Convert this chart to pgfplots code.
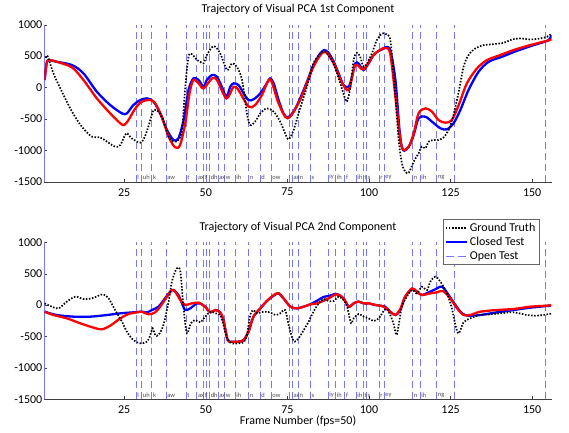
\documentclass[border=0pt]{standalone}
\usepackage{fontspec}
\setmainfont{Carlito}
\usepackage{pgfplots}
\pgfplotsset{compat=1.18}
\usepackage{pgfplotstable}

\definecolor{openblue}{RGB}{120,120,255}

% ---------------- Top plot (1st component) ----------------
\pgfplotstableread{
f v
1.0 470
1.5 500
3.3 225
5.9 -67
9.0 -385
12.0 -624
15.1 -783
17.6 -793
19.7 -862
22.2 -942
23.8 -916
25.6 -730
27.3 -810
29.9 -878
31.4 -772
33.0 -518
34.0 -359
35.5 -385
37.0 -518
38.6 -783
40.1 -862
41.6 -836
42.7 -677
43.7 12
44.7 490
45.7 532
47.3 437
48.3 410
49.3 384
50.3 516
52.4 659
54.4 543
56.5 278
58.0 384
59.5 331
61.1 119
62.6 -412
63.6 -597
65.1 -544
66.7 -412
68.7 -332
70.8 -385
72.8 -544
74.3 -730
75.4 -825
76.9 -677
78.9 -332
81.0 12
83.0 384
85.1 543
86.6 569
88.6 437
90.2 225
91.7 -14
93.2 -226
94.3 12
95.3 437
96.3 553
97.3 490
98.3 331
99.4 384
100.9 543
102.4 755
104.0 861
105.2 850
106.3 808
107.0 550
108.1 -147
109.1 -836
110.1 -1207
111.1 -1340
112.2 -1356
113.7 -1181
115.2 -1048
116.2 -942
117.3 -968
118.3 -862
119.8 -836
121.3 -836
122.9 -793
124.4 -677
125.9 -438
127.5 -67
129.0 331
130.5 516
132.6 622
135.1 675
138.2 691
141.3 712
143.8 765
146.4 781
149.4 765
152.5 781
154.6 808
155.8 850
}\topgt

\pgfplotstableread{
f v
0.6 120
1.2 380
1.8 437
4.3 410
9.0 357
12.5 225
16.6 -67
20.7 -279
24.3 -412
25.8 -412
27.8 -279
29.9 -200
32.0 -173
34.0 -226
36.0 -412
38.1 -677
40.1 -836
41.6 -810
43.2 -518
44.7 -41
46.2 145
47.8 119
49.3 12
50.3 119
51.9 198
53.4 172
54.9 12
56.3 -147
57.5 12
58.5 66
60.0 39
61.6 -94
63.1 -200
64.6 -189
66.7 -94
68.7 66
69.7 145
70.8 66
72.3 -200
73.8 -412
75.1 -475
76.9 -385
78.9 -173
81.0 92
83.0 357
85.1 543
86.3 596
87.6 553
89.2 410
90.7 225
92.2 39
93.8 12
94.8 172
95.8 384
96.8 384
98.3 278
99.9 384
101.4 516
103.0 585
104.0 606
105.0 640
106.5 596
108.1 119
109.4 -700
110.4 -995
112.2 -942
113.7 -757
115.2 -491
117.3 -465
119.3 -544
121.9 -650
123.9 -666
125.9 -571
128.0 -359
130.5 -41
133.6 251
136.7 410
140.8 490
145.4 585
150.5 675
155.1 755
155.8 834
}\topcl

\pgfplotstableread{
f v
0.6 120
1.2 380
1.8 437
4.3 410
9.0 320
12.5 119
16.6 -173
20.7 -412
23.8 -571
25.0 -597
26.3 -518
28.4 -332
30.4 -226
33.0 -200
34.5 -253
36.5 -465
38.6 -783
40.6 -953
42.1 -916
43.7 -571
45.0 -94
46.2 119
47.8 66
49.3 -14
51.9 145
53.4 119
56.3 -173
58.5 12
60.0 -41
63.1 -306
65.1 -279
67.2 -120
69.7 129
72.3 -253
75.1 -491
78.9 -200
83.0 331
86.3 569
89.2 384
91.5 100
93.8 -41
95.8 357
98.3 288
101.4 516
103.5 600
105.0 630
106.5 540
108.1 -147
109.6 -836
110.6 -995
112.2 -942
113.7 -730
115.2 -412
117.3 -332
119.3 -385
121.3 -518
123.4 -560
125.4 -518
127.5 -279
130.0 66
133.1 304
136.2 437
140.2 516
144.3 596
149.4 675
154.6 744
156.0 765
}\topop

% ---------------- Bottom plot (2nd component) ----------------
\pgfplotstableread{
f v
0.6 28
2.8 -25
4.9 -52
7.4 55
10.0 134
12.5 97
15.1 108
17.1 150
18.6 171
20.2 108
22.2 -78
24.3 -264
25.8 -423
27.8 -556
29.9 -609
32.0 -582
33.0 -476
33.7 -370
34.5 -476
35.5 -476
37.0 -317
38.6 55
39.6 373
41.1 585
42.2 532
43.2 -52
44.2 -450
45.4 -290
46.8 -237
48.3 -274
49.8 -184
51.4 -105
52.9 -131
54.4 -158
55.4 -317
56.5 -529
58.0 -609
60.0 -609
61.6 -593
62.6 -476
63.6 -158
64.6 -78
65.7 -131
67.7 -105
69.7 -115
71.3 -158
72.8 -131
74.3 -78
75.4 -317
76.9 -572
78.4 -529
80.0 -397
81.5 -264
83.0 -105
84.6 28
86.1 97
87.6 65
89.2 65
90.7 134
92.2 81
93.3 -25
94.5 -290
95.3 -211
96.8 -142
98.4 -184
99.9 -211
101.4 -253
103.0 -211
104.5 -94
105.5 -62
106.5 -158
107.5 -290
108.4 -476
109.1 -317
110.1 -25
111.6 134
113.2 240
114.7 187
116.2 293
117.8 240
118.8 373
120.3 453
121.9 373
123.9 187
125.4 -52
126.5 -317
127.5 -450
129.0 -274
131.0 -211
134.1 -158
137.2 -147
140.2 -131
144.3 -115
148.4 -158
151.5 -168
154.6 -147
155.8 -136
}\botgt

\pgfplotstableread{
f v
0.6 -105
4.3 -158
9.5 -184
14.6 -184
19.7 -158
23.8 -131
27.8 -115
30.4 -105
32.0 -115
33.5 -78
35.5 -25
37.5 108
39.1 214
40.1 240
41.6 161
42.7 28
43.7 -78
45.2 -52
47.3 28
48.8 12
49.8 -25
51.4 -115
52.9 -78
54.4 -115
55.4 -237
56.7 -556
58.0 -582
60.0 -582
61.6 -556
63.1 -423
64.6 -184
66.7 -52
68.7 65
70.8 150
72.3 187
73.8 108
75.9 -25
77.9 -52
80.0 -25
82.0 12
84.1 70
86.1 130
88.1 150
89.7 180
90.7 165
92.2 108
93.8 -25
95.3 28
96.8 55
98.4 28
99.9 28
101.9 2
104.0 -14
105.0 -25
106.5 -105
108.1 -158
109.6 -78
111.1 134
113.2 256
114.7 214
116.2 161
118.3 203
120.3 251
122.4 293
124.4 161
126.5 2
128.5 -131
130.5 -168
134.1 -158
139.2 -115
144.3 -78
149.4 -41
154.6 -14
155.8 -9
}\botcl

\pgfplotstableread{
f v
0.6 -105
3.3 -158
7.4 -211
11.5 -290
15.6 -359
18.1 -386
20.7 -328
23.8 -211
26.3 -142
28.9 -115
30.4 -105
32.4 -147
34.5 -115
36.0 -25
38.1 134
39.6 240
40.6 214
42.2 81
43.7 2
45.7 28
47.8 40
48.8 12
49.8 -25
51.4 -115
52.9 -78
54.4 -115
55.4 -237
56.7 -556
58.0 -582
60.0 -582
61.6 -556
63.1 -423
64.6 -184
66.7 -52
68.7 65
70.8 160
72.3 190
73.8 108
75.9 -25
77.9 -52
80.0 -25
82.0 12
84.1 28
86.1 70
88.1 120
89.7 171
90.7 165
92.2 108
93.8 -25
95.3 28
96.8 55
98.4 28
99.9 28
101.9 2
104.0 -14
105.0 -41
106.5 -105
108.1 -158
109.6 -62
111.1 134
113.2 267
114.7 214
116.2 161
118.8 187
120.8 203
122.7 224
124.9 108
127.0 -52
129.0 -158
131.0 -158
134.1 -105
139.2 -78
144.3 -62
149.4 -25
154.6 -9
155.8 2
}\botop

\newcommand{\fs}{\fontsize{12}{14}\selectfont}

\tikzset{
  phon/.style={font=\fontsize{6.5}{6.5}\selectfont, text=black!70, anchor=south west, inner sep=0.4pt, xshift=0.8pt, yshift=1.5pt},
}

\pgfplotsset{
  myaxis/.style={
    scale only axis, width=507.4pt, height=157pt,
    xmin=0.5, xmax=156, ymin=-1500, ymax=1000,
    xtick={25,50,75,100,125,150}, xticklabels={25,50,75,100,125,150},
    ytick={-1500,-1000,-500,0,500,1000},
    yticklabels={-1500,-1000,-500,0,500,1000},
    tick align=inside, major tick length=3pt,
    axis x line*=bottom, axis y line*=left, axis line style={-},
    x axis line style={black!75}, y axis line style={openblue},
    tick style={black!75},
    ticklabel style={font=\fs},
    xticklabel style={yshift=-3pt}, yticklabel style={xshift=1.5pt},
    extra x ticks={28.6,30.3,33.4,37.8,43.9,47.2,49.2,50.3,51.1,53.7,55.7,58.9,63.1,66.6,70.0,75.6,76.5,78.3,82.0,87.4,89.7,92.6,96.0,98.2,99.2,103.1,104.6,113.3,115.6,120.7,126.1,154.2},
    extra x tick labels={},
    extra x tick style={grid=major, major tick length=0pt,
      major grid style={openblue, line width=0.7pt, dash pattern=on 7pt off 4pt}},
    title style={font=\fs, at={(0.5,1)}, anchor=base, yshift=6pt},
  },
  gt/.style={black, line width=1.7pt, dash pattern=on 1.5pt off 1.6pt},
  cl/.style={blue, line width=2.3pt},
  op/.style={red, line width=2.3pt},
  legend image code/.code={\draw[#1] (0pt,0pt) -- (21pt,0pt);},
}

\newcommand{\phonemes}{%
  \node[phon] at (axis cs:28.6,-1500) {l};
  \node[phon] at (axis cs:30.3,-1500) {uh};
  \node[phon] at (axis cs:33.4,-1500) {k};
  \node[phon] at (axis cs:37.8,-1500) {aw};
  \node[phon] at (axis cs:43.9,-1500) {t};
  \node[phon] at (axis cs:47.2,-1500) {ax};
  \node[phon] at (axis cs:49.2,-1500) {y};
  \node[phon] at (axis cs:51.1,-1500) {dh};
  \node[phon] at (axis cs:53.7,-1500) {ax};
  \node[phon] at (axis cs:55.7,-1500) {w};
  \node[phon] at (axis cs:58.9,-1500) {ih};
  \node[phon] at (axis cs:63.1,-1500) {n};
  \node[phon] at (axis cs:66.6,-1500) {d};
  \node[phon] at (axis cs:70.0,-1500) {ow};
  \node[phon] at (axis cs:76.5,-1500) {ax};
  \node[phon] at (axis cs:78.3,-1500) {n};
  \node[phon] at (axis cs:82.0,-1500) {s};
  \node[phon] at (axis cs:87.4,-1500) {iy};
  \node[phon] at (axis cs:89.7,-1500) {ih};
  \node[phon] at (axis cs:92.6,-1500) {f};
  \node[phon] at (axis cs:96.0,-1500) {ih};
  \node[phon] at (axis cs:98.2,-1500) {t};
  \node[phon] at (axis cs:99.2,-1500) {s};
  \node[phon] at (axis cs:103.1,-1500) {r};
  \node[phon] at (axis cs:104.6,-1500) {ey};
  \node[phon] at (axis cs:113.3,-1500) {n};
  \node[phon] at (axis cs:115.6,-1500) {ih};
  \node[phon] at (axis cs:120.7,-1500) {ng};
}

\begin{document}
\begin{tikzpicture}[x=1pt,y=1pt]
\path[use as bounding box] (0,0) rectangle (569,432);

\begin{axis}[myaxis, at={(44.3pt,250.3pt)}, anchor=south west,
  title={Trajectory of Visual PCA 1st Component}]
  \addplot[cl, smooth, tension=0.5] table[x=f,y=v] {\topcl};
  \addplot[op, smooth, tension=0.5] table[x=f,y=v] {\topop};
  \addplot[gt, smooth, tension=0.5] table[x=f,y=v] {\topgt};
  \phonemes
\end{axis}

\begin{axis}[myaxis, at={(44.3pt,32.7pt)}, anchor=south west,
  title={Trajectory of Visual PCA 2nd Component},
  xlabel={Frame Number (fps=50)},
  xlabel style={font=\fs, at={(axis description cs:0.5,0)}, anchor=base, yshift=-25pt},
  legend style={at={(0.976,1.148)}, anchor=north east, draw=black!60,
    font=\fs, inner xsep=2pt, inner ysep=1.5pt, row sep=0.5pt, fill=white,
    /tikz/every even column/.style={column sep=1pt}},
  legend cell align=left]
  \addlegendimage{gt}
  \addlegendentry{Ground Truth}
  \addlegendimage{blue, line width=2pt}
  \addlegendentry{Closed Test}
  \addlegendimage{openblue, line width=0.8pt, dash pattern=on 8pt off 4pt}
  \addlegendentry{Open Test}
  \addplot[cl, smooth, tension=0.5, forget plot] table[x=f,y=v] {\botcl};
  \addplot[op, smooth, tension=0.5, forget plot] table[x=f,y=v] {\botop};
  \addplot[gt, smooth, tension=0.5, forget plot] table[x=f,y=v] {\botgt};
  \phonemes
\end{axis}
\end{tikzpicture}
\end{document}
